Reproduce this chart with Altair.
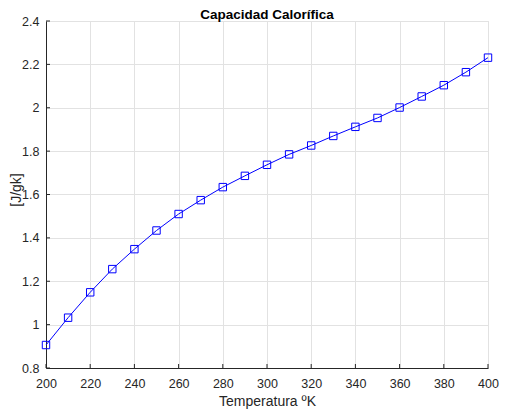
import altair as alt
import pandas as pd

temps = [200, 210, 220, 230, 240, 250, 260, 270, 280, 290, 300,
         310, 320, 330, 340, 350, 360, 370, 380, 390, 400]
cp = [0.906, 1.032, 1.149, 1.256, 1.348, 1.434, 1.510, 1.574, 1.634, 1.686, 1.737,
      1.785, 1.826, 1.870, 1.912, 1.953, 2.001, 2.052, 2.104, 2.164, 2.231]
x_ticks = [200, 220, 240, 260, 280, 300, 320, 340, 360, 380, 400]
y_ticks = [0.8, 1.0, 1.2, 1.4, 1.6, 1.8, 2.0, 2.2, 2.4]
title_text = "Capacidad Calorífica"

W, H = 442, 347
df = pd.DataFrame({"T": temps, "cp": cp})
xt = pd.DataFrame({"v": x_ticks})
yt = pd.DataFrame({"v": y_ticks})

FONT = "Liberation Sans"
DARK = "#262626"

xs = alt.Scale(domain=[200, 400], nice=False, zero=False)
ys = alt.Scale(domain=[0.8, 2.4], nice=False, zero=False)

xax = alt.Axis(values=x_ticks, format="d", title="Temperatura ºK", grid=True,
               gridColor="#e2e2e2", tickSize=0, domainColor=DARK, labelColor=DARK,
               labelFontSize=12.5, labelPadding=9, labelFlush=False,
               titleFontSize=14, titleFontWeight="normal",
               titleColor=DARK, titlePadding=5, labelFont=FONT, titleFont=FONT)
yax = alt.Axis(values=y_ticks, format="~g", title="[J/gk]", grid=True,
               gridColor="#e2e2e2", tickSize=0, domainColor=DARK, labelColor=DARK,
               labelFontSize=12.5, labelPadding=7, labelFlush=False,
               titleFontSize=14, titleFontWeight="normal",
               titleColor=DARK, titleX=-37, titleY=H / 2 - 5, titleBaseline="top",
               titleAngle=270, titleAlign="center",
               labelFont=FONT, titleFont=FONT)

line = alt.Chart(df).mark_line(color="#0000ff", strokeWidth=1).encode(
    x=alt.X("T:Q", scale=xs, axis=xax),
    y=alt.Y("cp:Q", scale=ys, axis=yax),
)
pts = alt.Chart(df).mark_point(shape="square", filled=False, color="#0000ff",
                               size=55, strokeWidth=1, opacity=1).encode(
    x=alt.X("T:Q", scale=xs),
    y=alt.Y("cp:Q", scale=ys),
)
xtick = alt.Chart(xt).mark_rule(color=DARK, strokeWidth=1).encode(
    x=alt.X("v:Q", scale=xs),
    y=alt.value(H),
    y2=alt.value(H - 4),
)
ytick = alt.Chart(yt).mark_rule(color=DARK, strokeWidth=1).encode(
    y=alt.Y("v:Q", scale=ys),
    x=alt.value(0),
    x2=alt.value(4),
)
title = alt.Chart(pd.DataFrame({"t": [title_text]})).mark_text(
    font=FONT, fontSize=13.5, fontWeight="bold", color="#000000",
    baseline="alphabetic", align="center",
).encode(
    x=alt.datum(300, scale=xs),
    y=alt.value(-2),
    text="t:N",
)

chart = alt.layer(line, pts, xtick, ytick, title).properties(
    width=W, height=H,
    autosize=alt.AutoSizeParams(type="none"),
    padding={"left": 38, "top": 13, "right": 33, "bottom": 44},
).configure_view(stroke=None).configure(background="white")

chart.save("out.html", embed_options={"renderer": "svg", "actions": False})
